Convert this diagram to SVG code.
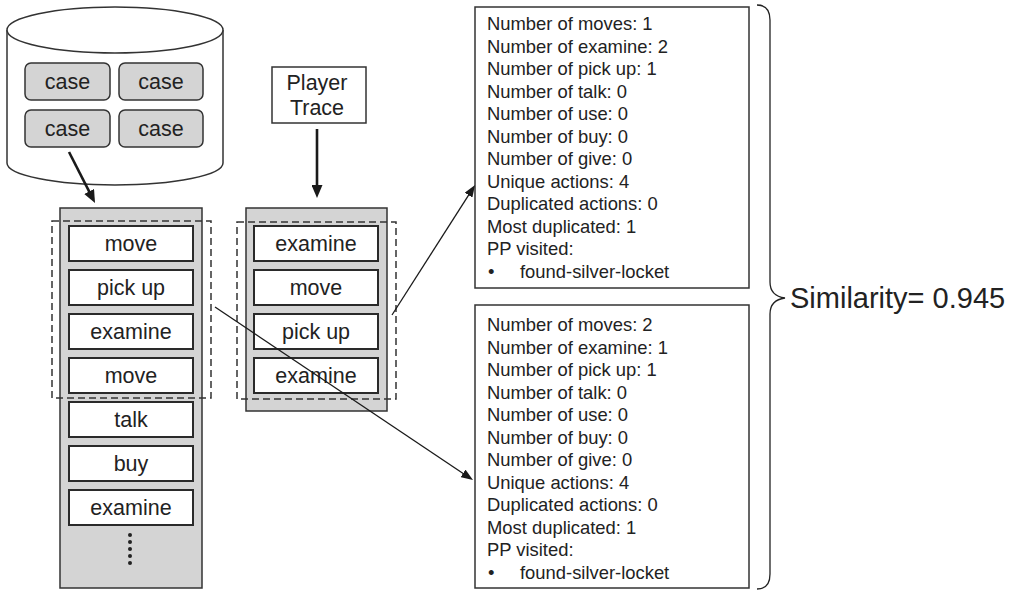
<svg xmlns="http://www.w3.org/2000/svg" width="1016" height="591" viewBox="0 0 1016 591">
<style>
text{font-family:"Liberation Sans",Arial,sans-serif;fill:#222}
.lbl{font-size:21.5px;text-anchor:middle}
.info{font-size:18.4px}
.case{fill:#d4d4d4;stroke:#333;stroke-width:1.5}
.item{fill:#fff;stroke:#2a2a2a;stroke-width:2}
.col{fill:#d4d4d4;stroke:#333;stroke-width:1.5}
.dash{fill:none;stroke:#333;stroke-width:1.5;stroke-dasharray:7 4}
.box{fill:#fff;stroke:#333;stroke-width:1.5}
.thick{stroke:#1a1a1a;stroke-width:2.6;fill:none}
.thin{stroke:#1a1a1a;stroke-width:1.3;fill:none}
</style>
<defs>
<marker id="ahBig" markerUnits="userSpaceOnUse" viewBox="0 0 13 11" refX="7" refY="5.5" markerWidth="13" markerHeight="11" orient="auto">
<path d="M0,0 L13,5.5 L0,11 z" fill="#1a1a1a"/>
</marker>
<marker id="ahSmall" markerUnits="userSpaceOnUse" viewBox="0 0 12 9" refX="6" refY="4.5" markerWidth="12" markerHeight="9" orient="auto">
<path d="M0,0 L12,4.5 L0,9 z" fill="#1a1a1a"/>
</marker>
</defs>
<rect width="1016" height="591" fill="#fff"/>

<g id="case-base">
<path d="M7,30 L7,163 A108,22 0 0 0 223,163 L223,30" fill="#fff" stroke="#333" stroke-width="1.5"/>
<ellipse cx="115" cy="30" rx="108" ry="23" fill="#fff" stroke="#333" stroke-width="1.5"/>
<rect class="case" x="25" y="63" width="85" height="37" rx="6"/>
<rect class="case" x="119" y="63" width="84" height="37" rx="6"/>
<rect class="case" x="25" y="110" width="85" height="37" rx="6"/>
<rect class="case" x="119" y="110" width="84" height="37" rx="6"/>
<text class="lbl" x="67.5" y="89">case</text>
<text class="lbl" x="161" y="89">case</text>
<text class="lbl" x="67.5" y="136">case</text>
<text class="lbl" x="161" y="136">case</text>
</g>

<g id="case-trace">
<rect class="col" x="60" y="208" width="142" height="380"/>
<rect class="item" x="69" y="226" width="124" height="35"/>
<rect class="item" x="69" y="270" width="124" height="35"/>
<rect class="item" x="69" y="314" width="124" height="35"/>
<rect class="item" x="69" y="358" width="124" height="35"/>
<rect class="item" x="69" y="402" width="124" height="35"/>
<rect class="item" x="69" y="446" width="124" height="35"/>
<rect class="item" x="69" y="490" width="124" height="35"/>
<text class="lbl" x="131" y="251">move</text>
<text class="lbl" x="131" y="295">pick up</text>
<text class="lbl" x="131" y="339">examine</text>
<text class="lbl" x="131" y="383">move</text>
<text class="lbl" x="131" y="427">talk</text>
<text class="lbl" x="131" y="471">buy</text>
<text class="lbl" x="131" y="515">examine</text>
<g fill="#222">
<circle cx="130" cy="535" r="2"/>
<circle cx="130" cy="542" r="2"/>
<circle cx="130" cy="549" r="2"/>
<circle cx="130" cy="556" r="2"/>
<circle cx="130" cy="563" r="2"/>
</g>
<rect class="dash" x="52" y="221" width="159" height="177"/>
</g>

<g id="player-trace-label">
<rect class="box" x="272" y="67" width="94" height="56"/>
<text class="lbl" x="317" y="90">Player</text>
<text class="lbl" x="317" y="115">Trace</text>
</g>

<g id="player-trace">
<rect class="col" x="246" y="208" width="141" height="203"/>
<rect class="item" x="254" y="226" width="124" height="35"/>
<rect class="item" x="254" y="270" width="124" height="35"/>
<rect class="item" x="254" y="314" width="124" height="35"/>
<rect class="item" x="254" y="358" width="124" height="35"/>
<text class="lbl" x="316" y="251">examine</text>
<text class="lbl" x="316" y="295">move</text>
<text class="lbl" x="316" y="339">pick up</text>
<text class="lbl" x="316" y="383">examine</text>
<rect class="dash" x="237" y="222" width="159" height="177"/>
</g>

<g id="features-top">
<rect class="box" x="475" y="7" width="274" height="281"/>
<text class="info" x="487" y="30">Number of moves: 1</text>
<text class="info" x="487" y="52.5">Number of examine: 2</text>
<text class="info" x="487" y="75">Number of pick up: 1</text>
<text class="info" x="487" y="97.5">Number of talk: 0</text>
<text class="info" x="487" y="120">Number of use: 0</text>
<text class="info" x="487" y="142.5">Number of buy: 0</text>
<text class="info" x="487" y="165">Number of give: 0</text>
<text class="info" x="487" y="187.5">Unique actions: 4</text>
<text class="info" x="487" y="210">Duplicated actions: 0</text>
<text class="info" x="487" y="232.5">Most duplicated: 1</text>
<text class="info" x="487" y="255">PP visited:</text>
<text class="info" x="488" y="277.5">•</text>
<text class="info" x="520" y="277.5">found-silver-locket</text>
</g>

<g id="features-bottom">
<rect class="box" x="475" y="305" width="274" height="283"/>
<text class="info" x="487" y="331">Number of moves: 2</text>
<text class="info" x="487" y="353.5">Number of examine: 1</text>
<text class="info" x="487" y="376">Number of pick up: 1</text>
<text class="info" x="487" y="398.5">Number of talk: 0</text>
<text class="info" x="487" y="421">Number of use: 0</text>
<text class="info" x="487" y="443.5">Number of buy: 0</text>
<text class="info" x="487" y="466">Number of give: 0</text>
<text class="info" x="487" y="488.5">Unique actions: 4</text>
<text class="info" x="487" y="511">Duplicated actions: 0</text>
<text class="info" x="487" y="533.5">Most duplicated: 1</text>
<text class="info" x="487" y="556">PP visited:</text>
<text class="info" x="488" y="578.5">•</text>
<text class="info" x="520" y="578.5">found-silver-locket</text>
</g>

<g id="similarity">
<path d="M757,5 Q770,5 770,20 L770,282 Q770,296 785,298 Q770,300 770,314 L770,574 Q770,589 757,589" fill="none" stroke="#222" stroke-width="1.3"/>
<text x="790" y="308" style="font-size:29px">Similarity= 0.945</text>
</g>

<g id="connectors">
<line class="thick" x1="69" y1="152" x2="92.3" y2="197.7" marker-end="url(#ahBig)"/>
<line class="thick" x1="317" y1="129" x2="317" y2="192" marker-end="url(#ahBig)"/>
<line class="thin" x1="392" y1="315" x2="471.8" y2="190.1" marker-end="url(#ahSmall)"/>
<line class="thin" x1="215" y1="307" x2="468" y2="476.7" marker-end="url(#ahSmall)"/>
</g>
</svg>
